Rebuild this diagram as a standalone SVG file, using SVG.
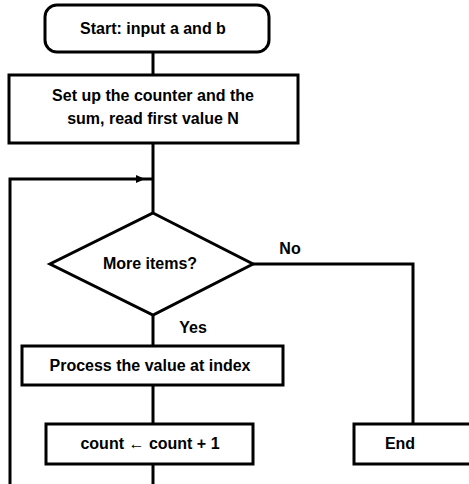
<svg xmlns="http://www.w3.org/2000/svg" width="469" height="484" viewBox="0 0 469 484">
<defs>
<style>
.s{fill:#fff;stroke:#000;stroke-width:3}
.c{fill:none;stroke:#000;stroke-width:3}
.t{font-family:"Liberation Sans",Arial,sans-serif;font-size:16px;font-weight:bold;fill:#000;text-anchor:middle}
</style>
</defs>
<rect width="469" height="484" fill="#fff"/>
<g id="connectors">
<path class="c" d="M153,52 V75"/>
<path class="c" d="M153,143 V213"/>
<path class="c" d="M10,484 V179 H153"/>
<path d="M136,175 L145,179 L136,183 Z" fill="#000"/>
<path class="c" d="M153,315 V346"/>
<path class="c" d="M153,385 V424"/>
<path class="c" d="M153,464 V484"/>
<path class="c" d="M253,264 H413 V424"/>
</g>
<g id="start">
<rect class="s" x="45" y="5" width="224" height="47" rx="12"/>
<text class="t" x="153" y="34">Start: input a and b</text>
</g>
<g id="init">
<rect class="s" x="9" y="75" width="289" height="68"/>
<text class="t" x="153" y="101">Set up the counter and the</text>
<text class="t" x="153" y="124">sum, read first value N</text>
</g>
<g id="decision">
<polygon class="s" points="153,213 253,264 153,315 50,264"/>
<text class="t" x="150" y="269">More items?</text>
</g>
<g id="labels">
<text class="t" x="290" y="254">No</text>
<text class="t" x="193" y="333">Yes</text>
</g>
<g id="process">
<rect class="s" x="22" y="346" width="261" height="39"/>
<text class="t" x="150" y="371">Process the value at index</text>
</g>
<g id="increment">
<rect class="s" x="46" y="424" width="207" height="40"/>
<text class="t" x="150" y="449">count ← count + 1</text>
</g>
<g id="end">
<rect class="s" x="354" y="424" width="130" height="40"/>
<text class="t" x="400" y="449">End</text>
</g>
</svg>
